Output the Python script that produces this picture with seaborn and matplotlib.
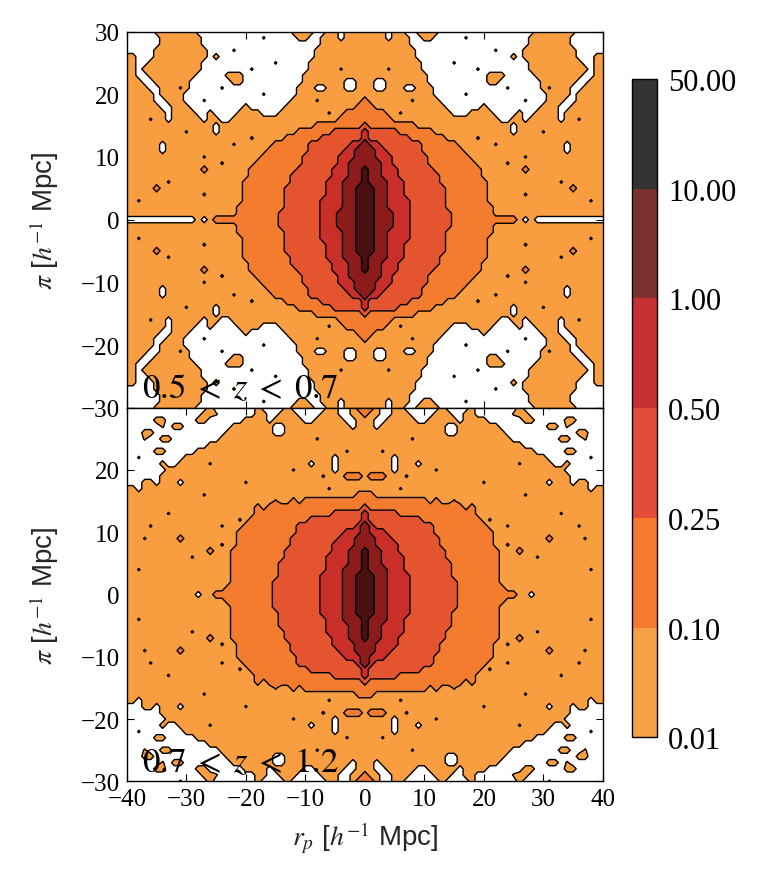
import numpy as np
import matplotlib
matplotlib.use("Agg")
import matplotlib.pyplot as plt
import seaborn as sns
from matplotlib.colors import ListedColormap, BoundaryNorm
from matplotlib.cm import ScalarMappable

# ---------------- data ----------------
levels = [0.01, 0.10, 0.25, 0.50, 1.00, 10.00, 50.00]
level_labels = ["0.01", "0.10", "0.25", "0.50", "1.00", "10.00", "50.00"]
# representative xi value for each band code
# 0: <0.01, 1: 0.01-0.1, 2: 0.1-0.25, 3: 0.25-0.5, 4: 0.5-1, 5: 1-10, 6: 10-50
# w: faint dip just under 0.01, p: faint bump just over 0.1, o: faint bump just over 0.01
band_values = {"0": -0.03, "1": 0.05, "2": 0.17, "3": 0.35, "4": 0.70,
               "5": 2.0, "6": 20.0, "w": 0.0, "p": 0.115, "o": 0.02}
rp_bins = list(range(0, 41))   # h^-1 Mpc, one quadrant (map is mirrored)
pi_bins = list(range(0, 31))
panel_labels = [r"$0.5\;<\;z\;<\;0.7$", r"$0.7\;<\;z\;<\;1.2$"]

# band codes of the upper-right quadrant, rows pi = 30 ... 0, cols rp = 0 ... 40
xi_low_z = [
    "1111011001 1110000000 0000000001 1111110000 0",
    "1111011100 1100000o00 0000000011 1111100000 0",
    "1111111100 0000000000 0000000011 1111100000 0",
    "1111111110 0000000000 00o0000111 1111110000 0",
    "1111111110 0000000000 0000010111 1111110001 1",
    "1111111111 00000o0000 0000000011 1111111001 1",
    "1111w11111 000000000o 0000000011 1111111101 1",
    "1111111111 1000000000 0111000001 1111111001 1",
    "1100111111 1000000000 0110000000 1111110011 1",
    "1100111001 1100000000 0000o00000 1w11100111 1",
    "1111111111 1100000o00 0000000000 0111101111 1",
    "21111111w1 1110000000 0000000o00 0111001111 1",
    "2211111111 1111000000 1000000000 1110011111 1",
    "222211w111 1111100011 1100001001 1110111111 1",
    "2222211111 1111111111 1110011011 111011w111 1",
    "3222222221 1111111111 1111101111 1111111111 1",
    "4333332222 2211111111 1111101111 w111111111 1",
    "4333333322 222211111p 1111111111 1111111111 1",
    "5443333333 2222221111 11w1111111 1111011111 1",
    "5544333333 2222222111 1111111111 1111011111 1",
    "5544433333 3222222211 1111111w11 1111111111 1",
    "5554433333 3222222221 1111p11111 1111111111 1",
    "6554443333 3322222222 1111111211 1111111111 1",
    "6554443333 3332222222 1111111111 1111111111 1",
    "6555444333 3332222222 2111111111 111w111111 1",
    "6655444333 3333222222 2111111111 1111121111 1",
    "6655444333 3333222222 2111111p11 1111111111 1",
    "6655444433 3333222222 2111111111 11111111w1 1",
    "6655444433 3333222222 2211111111 1111111111 1",
    "6655544433 3333322222 2211111111 1111111111 1",
    "6655544433 3333322222 2222221010 0000000000 0",
]

xi_high_z = [
    "2210011000 0001000010 0000001000 0o00000000 0",
    "2110011100 0011100110 00000o1100 0000000000 0",
    "1100111110 0111110111 1000000110 0000110000 0",
    "1101111111 1111001111 1110000000 0110o00000 0",
    "1111111111 1111001111 1111000000 0000001100 0",
    "11111111w1 1111111111 1111100000 0001100o00 0",
    "1111111111 1111111111 1111111000 0000000000 0",
    "111w111111 1111111111 1111111110 0000110000 0",
    "1111101111 1111111111 1111111111 10000000o0 0",
    "1111101110 1111111111 111111w111 1100100000 0",
    "1111101111 11w1111111 1111111111 1111000000 0",
    "1222111p11 1111111111 1111111111 1111100000 0",
    "1111111111 1111111111 w111111111 1011101100 0",
    "111111w111 1111111111 1111111111 1111111101 1",
    "2211111111 1111111111 1111111w11 1111111111 1",
    "2222222222 21211p1111 1111111111 1111111111 1",
    "3222222222 2222222121 1111111111 1111111111 1",
    "4333332222 2222222221 1111111111 111w111111 1",
    "4333333333 2222222222 1p11111111 1111111111 1",
    "5433333333 3322222222 2111w11111 111111w111 1",
    "5444333333 3322222222 2211111111 1111111111 1",
    "5544433333 3332222222 2211111111 1211111w11 1",
    "5544443333 3332222222 2211p11111 1111111111 1",
    "6554443333 3333222222 2221112111 1111111111 1",
    "6554444333 3333222222 222111111w 1111111111 1",
    "6554444333 3333322222 2221111111 1111111111 1",
    "6555444333 3333322222 2221111111 11111111w1 1",
    "6655444433 3333322222 2221111111 1111111111 1",
    "6655444433 3333332222 2221111111 1111111111 1",
    "6655444433 3333332222 2222111111 1111111111 1",
    "6655444433 3333332222 2222221101 1111111111 1",
]

fill_colors = ["#f89e40", "#f47c2e", "#e4542f", "#c92e28", "#8c1c1c", "#4a1010"]
cbar_colors = ["#f6a045", "#f57a30", "#e24c38", "#c63133", "#7b3031", "#333333"]


def full_field(rows):
    q = np.array([[band_values[c] for c in r.replace(" ", "")] for r in rows])
    q = q[::-1]                       # pi ascending
    f = np.vstack([q[:0:-1], q])      # mirror along pi
    f = np.hstack([f[:, :0:-1], f])   # mirror along rp
    return f


rp = np.array(rp_bins, dtype=float)
pi = np.array(pi_bins, dtype=float)
x = np.concatenate([-rp[:0:-1], rp])
y = np.concatenate([-pi[:0:-1], pi])

# ---------------- style ----------------
sns.set_theme(style="ticks")
plt.rcParams["font.family"] = ["Liberation Serif", "DejaVu Serif"]
plt.rcParams["mathtext.fontset"] = "stix"
plt.rcParams["axes.edgecolor"] = "black"
plt.rcParams["xtick.color"] = "black"
plt.rcParams["ytick.color"] = "black"
plt.rcParams["axes.linewidth"] = 1.0

fig = plt.figure(figsize=(7.69, 8.79), dpi=100)
ax_top = fig.add_axes([0.165, 0.535, 0.619, 0.428])
ax_bot = fig.add_axes([0.165, 0.110, 0.619, 0.425])
cax = fig.add_axes([0.822, 0.160, 0.0325, 0.749])

fills = sns.color_palette(fill_colors)
for ax, rows, lab in zip([ax_top, ax_bot], [xi_low_z, xi_high_z], panel_labels):
    Z = full_field(rows)
    ax.contourf(x, y, Z, levels=levels, colors=fills)
    ax.contour(x, y, Z, levels=levels[:-1], colors="black", linewidths=1.0)
    ax.set_xlim(-40, 40)
    ax.set_ylim(-30, 30)
    ax.set_facecolor("white")
    ax.set_xticks(range(-40, 41, 10))
    ax.set_yticks(range(-30, 31, 10))
    ax.tick_params(direction="in", top=True, right=True, length=5, width=0.8,
                   labelsize=18, pad=5)
    ax.text(-37.5, -28.3, lab, fontsize=25, va="baseline", ha="left", color="black")
    ax.set_ylabel(r"$\pi$ [$h^{-1}$ Mpc]", fontsize=20, family="Liberation Sans", labelpad=14)

ax_top.tick_params(labelbottom=False)
ax_bot.set_yticklabels(["\u221230", "\u221220", "\u221210", "0", "10", "20", ""])
ax_bot.set_xlabel(r"$r_p$ [$h^{-1}$ Mpc]", fontsize=20, family="Liberation Sans", labelpad=7)

cmap = ListedColormap(sns.color_palette(cbar_colors))
norm = BoundaryNorm(levels, cmap.N)
cb = fig.colorbar(ScalarMappable(norm=norm, cmap=cmap), cax=cax, ticks=levels,
                  spacing="uniform")
cb.ax.set_yticklabels(level_labels)
cb.ax.tick_params(length=0, labelsize=22, pad=8)
cb.outline.set_linewidth(1.0)

fig.savefig("out.png", dpi=100, facecolor="white")
